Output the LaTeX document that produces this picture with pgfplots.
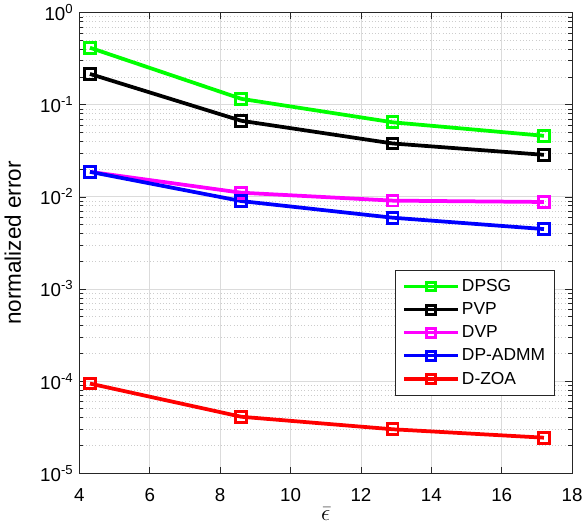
\documentclass[border=0pt]{standalone}
\usepackage{fontspec}
\setmainfont{Liberation Sans}
\usepackage{pgfplots}
\pgfplotsset{compat=1.18}
\definecolor{axgray}{gray}{0.15}
\definecolor{gridgray}{gray}{0.86}
\begin{document}
\begin{tikzpicture}
\begin{axis}[
  scale only axis,
  width=368pt, height=344pt,
  ymode=log,
  xmin=4, xmax=18, ymin=1e-5, ymax=1,
  xtick={4,6,...,18},
  ytick={1e-5,1e-4,1e-3,1e-2,1e-1,1},
  yticklabels={10\textsuperscript{-5},10\textsuperscript{-4},10\textsuperscript{-3},10\textsuperscript{-2},10\textsuperscript{-1},10\textsuperscript{0}},
  /pgf/number format/assume math mode=true,
  tick label style={font=\fontsize{14}{16}\selectfont},
  yticklabel style={xshift=-1pt},
  xticklabel style={yshift=-8pt},
  xlabel={$\bar{\epsilon}$},
  ylabel={normalized error},
  xlabel style={font=\fontsize{16}{18}\selectfont, at={(axis description cs:0.5,0)}, anchor=north, yshift=-22pt},
  ylabel style={font=\fontsize{16.8}{19}\selectfont, at={(axis description cs:-0.109,0.5)}, anchor=south},
  axis line style={axgray, line width=0.6pt},
  tick style={axgray, line width=0.5pt},
  major tick length=5pt, minor tick length=3pt,
  xmajorgrids, ymajorgrids, yminorgrids,
  major grid style={gridgray, line width=0.6pt},
  minor grid style={gray!40, dotted, line width=0.6pt},
  legend style={at={(0.965,0.168)}, anchor=south east, draw=axgray, line width=0.6pt, fill=white,
    font=\fontsize{13}{15}\selectfont, row sep=2.8pt, inner xsep=5pt, inner ysep=5pt},
  legend cell align=left,
  legend image code/.code={\draw[mark repeat=2, mark phase=2, #1, mark size=3.3pt, line width=2.4pt] plot coordinates {(0pt,0pt) (20pt,0pt) (40pt,0pt)};},
  every axis plot/.append style={line width=2.8pt, mark=square, mark size=4pt, mark options={solid, line width=2.2pt}},
]
\addplot[color={rgb,1:red,0;green,1;blue,0}] coordinates {(4.3,0.416) (8.6,0.116) (12.9,0.0645) (17.2,0.046)};
\addlegendentry{DPSG}
\addplot[color=black] coordinates {(4.3,0.216) (8.6,0.067) (12.9,0.038) (17.2,0.0286)};
\addlegendentry{PVP}
\addplot[color={rgb,1:red,1;green,0;blue,1}] coordinates {(4.3,0.0187) (8.6,0.0111) (12.9,0.0091) (17.2,0.0088)};
\addlegendentry{DVP}
\addplot[color=blue] coordinates {(4.3,0.0187) (8.6,0.0090) (12.9,0.00594) (17.2,0.00447)};
\addlegendentry{DP-ADMM}
\addplot[color=red] coordinates {(4.3,9.4e-5) (8.6,4.1e-5) (12.9,3.0e-5) (17.2,2.43e-5)};
\addlegendentry{D-ZOA}
\end{axis}
\end{tikzpicture}
\end{document}
